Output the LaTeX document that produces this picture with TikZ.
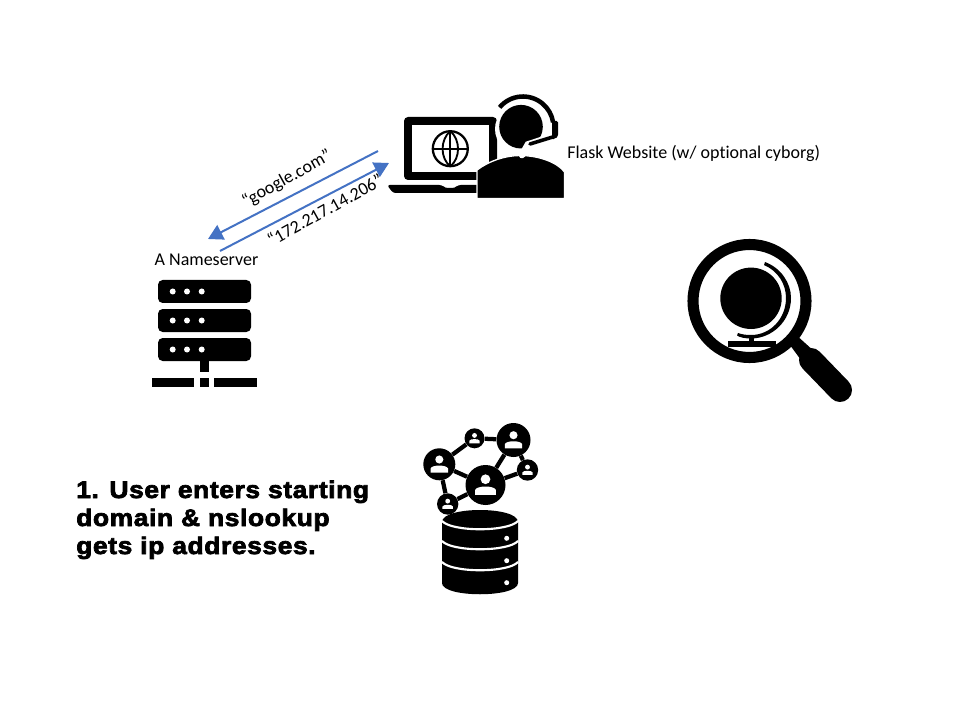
\documentclass[tikz,border=0pt]{standalone}
\usepackage{fontspec}
\setmainfont[Ligatures=NoCommon]{Carlito}
\newfontfamily\heavyfont[FakeBold=3,FakeStretch=1.1,LetterSpace=2.5]{Liberation Sans Bold}
\usetikzlibrary{arrows.meta}
\definecolor{flowblue}{HTML}{4472C4}
\newcommand{\netperson}[3]{%
  \begin{scope}[shift={(#1,#2)},scale=#3]
    \fill[white] (0,-0.32) circle (0.27);
    \fill[white] (-0.58,0.55) -- (-0.58,0.28) .. controls (-0.5,0.02) and (0.5,0.02) .. (0.58,0.28) -- (0.58,0.55) -- cycle;
  \end{scope}}
\newcommand{\rackdots}[1]{%
  \fill[white] (172.7,#1) circle (3) (187,#1) circle (3) (201.7,#1) circle (3);}
\tikzset{
  x=0.75pt,y=-0.75pt,
  flow/.style={draw=flowblue,line width=1.5pt,-{Triangle[length=11pt,width=12pt]}},
  caption/.style={font=\fontsize{13.5}{15}\selectfont,inner sep=0pt,text=black},
  stepline/.style={anchor=base west,inner sep=0pt,font=\heavyfont\fontsize{18}{20}\selectfont},
  rack/.style={fill=black,rounded corners=3.5pt},
  hub/.style={circle,fill=black,inner sep=0pt},
  link/.style={black,line width=3.2pt},
  whiteline/.style={white,line width=1.6pt},
}
\begin{document}
\begin{tikzpicture}
\useasboundingbox (0,0) rectangle (960,720);
\fill[white] (0,0) rectangle (960,720);

% laptop
\fill[black,rounded corners=3pt] (404,180) -- (404,117) -- (497,117) -- (497,180) -- cycle;
\fill[white] (412,125) rectangle (489,172);
\fill[black,rounded corners=2pt] (387,185) -- (442,185) -- (445,188) -- (455,188) -- (458,185) -- (482,185) -- (482,193) -- (393,193) -- cycle;
\draw[black,line width=1.7pt] (450.3,148.7) circle (17.5);
\draw[black,line width=1.4pt] (450.3,131) .. controls (440,140) and (440,158) .. (450.3,166.4);
\draw[black,line width=1.4pt] (450.3,131) .. controls (460.6,140) and (460.6,158) .. (450.3,166.4);
\draw[black,line width=1.4pt] (450.3,131) -- (450.3,166.4) (432.8,148.7) -- (467.8,148.7);

% person with headset
\fill[black,draw=white,line width=1pt] (477,198.5) -- (477,170) .. controls (489,161) and (505,155.5) .. (520,155.5) .. controls (540,155.5) and (558,163) .. (564.5,172) -- (564.5,198.5) -- cycle;
\fill[white] (520,129) circle (25);
\fill[black] (521,126.7) circle (21.8);
\draw[white,line width=5pt,line cap=round] (560,134) -- (528,144.5) -- (522,155);
\draw[black,line width=3.4pt] (499.6,107.4) arc[start angle=-140,end angle=-9,radius=30.5];
\fill[black,rounded corners=1pt] (552,121) -- (558,121) -- (558,136) -- (552,140) -- cycle;
\draw[black,line width=2.7pt,line cap=round] (556,136) -- (530,144);

\node[caption,anchor=west] (flask) at (567,153) {Flask Website (w/ optional cyborg)};

% flows
\coordinate (nsIn) at (208,239);
\coordinate (webOut) at (378,151);
\coordinate (nsOut) at (220,251);
\coordinate (webIn) at (389,163);
\draw[flow] (webOut) -- (nsIn);
\draw[flow] (nsOut) -- (webIn);
\node[caption,rotate=29] (q) at (287,179) {“google.com”};
\node[caption,rotate=29] (a) at (325,210) {“172.217.14.206”};

% nameserver
\node[caption] (ns) at (206.5,260) {A Nameserver};
\fill[rack] (158,280) rectangle (251,303);
\fill[rack] (158,309) rectangle (251,332);
\fill[rack] (158,338) rectangle (251,361);
\rackdots{291.5}\rackdots{320.5}\rackdots{349.5}
\fill[black] (200,361) rectangle (209,372);
\fill[black] (152,378) rectangle (194,387);
\fill[black] (200,378) rectangle (209,387);
\fill[black] (214,378) rectangle (257,387);

% magnifier
\draw[black,line width=8.3pt] (749.5,301) circle (56.5);
\fill[black] (787,341) -- (795,334) -- (815,352) -- (830,369) -- (812,375) -- cycle;
\draw[black,line width=18pt,line cap=round] (811,360) -- (840,390);
\fill[black] (751,298.3) circle (30.7);
\fill[black] (765,262) .. controls (781,268) and (791,283) .. (791,298) .. controls (791,321) and (772,338.5) .. (751,338.5) .. controls (745,338.5) and (740,337.5) .. (737,335.5) -- (738,333) .. controls (742,334.5) and (746,335) .. (751,335) .. controls (771,335) and (786,318) .. (786,298) .. controls (786,284) and (778,271) .. (764,265) -- cycle;
\fill[black] (749,337) rectangle (754,342);
\fill[black] (728,341) rectangle (776,347);

% network
\node[hub,minimum size=24pt] (nA) at (439.3,464.3) {};
\node[hub,minimum size=15pt] (nB) at (474.5,438.3) {};
\node[hub,minimum size=25.5pt] (nC) at (513.5,440) {};
\node[hub,minimum size=16pt] (nD) at (527.5,470) {};
\node[hub,minimum size=30pt] (nE) at (485.5,485) {};
\node[hub,minimum size=16pt] (nF) at (447.7,504) {};
\draw[link] (nA) -- (nB);
\draw[link] (nB) -- (nC);
\draw[link] (nC) -- (nE);
\draw[link] (nC) -- (nD);
\draw[link] (nA) -- (nE);
\draw[link] (nE) -- (nD);
\draw[link] (nA) -- (nF);
\draw[link] (nF) -- (nE);
\netperson{439.3}{464.3}{15}
\netperson{474.5}{438.3}{9}
\netperson{513.5}{440}{15}
\netperson{527.5}{470}{9}
\netperson{485.5}{485}{18}
\netperson{447.7}{504}{9}

% database
\fill[black] (442,522) .. controls (442,506) and (518,506) .. (518,522) -- (518,583) .. controls (518,598) and (442,598) .. (442,583) -- cycle;
\draw[whiteline] (442,521) .. controls (452,532) and (508,532) .. (518,521);
\draw[whiteline] (442,541) .. controls (452,552) and (508,552) .. (518,541);
\draw[whiteline] (442,562) .. controls (452,573) and (508,573) .. (518,562);
\fill[white] (506.7,538.3) circle (2.5) (506.7,560.7) circle (2.5) (506.7,582.7) circle (2.5);

% caption
\node[stepline] (step) at (76,498) {1. User enters starting};
\node[stepline] (step2) at (76,526) {domain \& nslookup};
\node[stepline] (step3) at (76,554) {gets ip addresses.};
\end{tikzpicture}
\end{document}
